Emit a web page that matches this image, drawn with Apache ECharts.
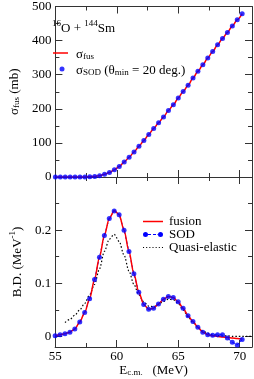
<!DOCTYPE html>
<html>
<head>
<meta charset="utf-8">
<script src="https://cdn.jsdelivr.net/npm/echarts@6/dist/echarts.min.js"></script>
<style>html,body{margin:0;padding:0;background:#fff}#c{width:254px;height:379px}</style>
</head>
<body>
<div id="c"></div>
<script>
const E = [55.0,55.4,55.8,56.2,56.6,57.0,57.4,57.8,58.2,58.6,59.0,59.4,59.8,60.2,60.6,61.0,61.4,61.8,62.2,62.6,63.0,63.4,63.8,64.2,64.6,65.0,65.4,65.8,66.2,66.6,67.0,67.4,67.8,68.2,68.6,69.0,69.4,69.8,70.2];
const sigmaFus = [0,0,0,0,0,0.1,0.3,0.8,1.8,4,8,13,21,31,44,58,73,90,107,125,142,159,176,195,212,232,251,269,290,310,329,349,368,388,406,424,443,461,479];
const sodBD = [0.001,0.003,0.005,0.008,0.014,0.027,0.045,0.071,0.107,0.149,0.190,0.222,0.236,0.229,0.200,0.160,0.118,0.083,0.060,0.051,0.053,0.061,0.070,0.075,0.073,0.065,0.053,0.039,0.028,0.017,0.008,0.003,0.002,0.003,0.003,-0.003,-0.011,-0.016,-0.006];
const fusionBD = [0.001,0.003,0.005,0.008,0.014,0.027,0.045,0.071,0.107,0.149,0.190,0.222,0.237,0.229,0.200,0.160,0.118,0.083,0.060,0.051,0.053,0.061,0.070,0.075,0.073,0.065,0.053,0.039,0.028,0.017,0.008,0.003,0.001,0.000,-0.001,-0.002,-0.003,-0.004,-0.005];
const qeE = [55.8,56.2,56.6,57.0,57.4,57.8,58.2,58.6,59.0,59.4,59.8,60.2,60.6,61.0,61.4,61.8,62.2,62.6,63.0,63.4,63.8,64.2,64.6,65.0,65.4,65.8,66.2,66.6,67.0,67.4,67.8,68.2,68.6,69.0,69.4,69.8,70.2,70.6,71.0];
const qeBD = [0.026,0.032,0.040,0.050,0.062,0.078,0.098,0.127,0.160,0.183,0.192,0.179,0.153,0.123,0.098,0.078,0.065,0.057,0.056,0.060,0.066,0.070,0.069,0.062,0.050,0.037,0.026,0.017,0.010,0.006,0.003,0.002,0.001,0.001,0,0,0,0,0];
const xMajor = [55,60,65,70];
const xMinor = [57.5,62.5,67.5];
const bdMajor = [0,0.1,0.2];
const bdMinor = [0.05,0.15,0.25];

const FONT = 'Liberation Serif';
const AX = '#333';
const rich = {
  n: {fontFamily: FONT, fontSize: 13, lineHeight: 16, verticalAlign: 'bottom', color: '#000'},
  sub: {fontFamily: FONT, fontSize: 9, lineHeight: 9, verticalAlign: 'bottom', color: '#000'},
  sup: {fontFamily: FONT, fontSize: 9, lineHeight: 9, verticalAlign: 'top', color: '#000'}
};
const pairs = (xs, ys) => xs.map((x, i) => [x, ys[i]]);
const NOLINE = {axisLine: {show: false, onZero: false}};

function xAx(grid, pos, ticks, len, opts) {
  return Object.assign({
    type: 'value', gridIndex: grid, position: pos, min: 55, max: 71,
    axisLine: {show: true, onZero: false, lineStyle: {color: AX, width: 1}},
    axisTick: {show: true, inside: true, length: len, customValues: ticks, lineStyle: {color: AX}},
    axisLabel: {show: false},
    splitLine: {show: false}
  }, opts || {});
}
function yBD(pos, ticks, len, opts) {
  return Object.assign({
    type: 'value', gridIndex: 1, position: pos, min: -0.02, max: 0.3,
    axisLine: {show: true, onZero: false, lineStyle: {color: AX, width: 1}},
    axisTick: {show: true, inside: true, length: len, customValues: ticks, lineStyle: {color: AX}},
    axisLabel: {show: false},
    splitLine: {show: false}
  }, opts || {});
}
function ySig(pos, labels) {
  return {
    type: 'value', gridIndex: 0, position: pos, min: 0, max: 500, interval: 100,
    axisLine: {show: true, onZero: false, lineStyle: {color: AX, width: 1}},
    axisTick: {show: true, inside: true, length: 7, lineStyle: {color: AX}},
    minorTick: {show: true, splitNumber: 2, length: 4, lineStyle: {color: AX}},
    axisLabel: {show: labels, margin: 4, fontFamily: FONT, fontSize: 13, color: '#000'},
    splitLine: {show: false},
    name: labels ? '{n|σ}{sub|fus}{n| (mb)}' : '',
    nameLocation: 'middle', nameGap: 14,
    nameTextStyle: {rich: rich}
  };
}

const option = {
  animation: false,
  textStyle: {fontFamily: FONT},
  grid: [
    {left: 41, right: 2, top: 4, height: 173},
    {left: 41, right: 2, top: 177, height: 170}
  ],
  title: {
    text: '{sup|16}{n|O + }{sup|144}{n|Sm}', left: 52, top: 19, padding: 0,
    textStyle: {fontWeight: 'normal', rich: rich}
  },
  legend: [
    {data: ['fus'], left: 53, top: 48, padding: 0, icon: 'rect', itemWidth: 15, itemHeight: 1.5,
     formatter: () => '{n|σ}{sub|fus}', textStyle: {padding: [0,0,0,3], rich: rich}},
    {data: ['sod'], left: 59.5, top: 64, padding: 0, icon: 'circle', itemWidth: 5, itemHeight: 5,
     formatter: () => '{n|σ}{sub|SOD}{n| (θ}{sub|min}{n| = 20 deg.)}', textStyle: {padding: [0,0,0,6.5], rich: rich}},
    {data: [
        {name: 'fusion', icon: 'path://M0,0L20,0L20,1.5L0,1.5Z'},
        {name: 'SOD', icon: 'path://M0,4a2.5,2.5 0 1,0 5,0a2.5,2.5 0 1,0 -5,0ZM15,4a2.5,2.5 0 1,0 5,0a2.5,2.5 0 1,0 -5,0ZM5,3.6L8,3.6L8,4.4L5,4.4ZM10,3.6L13,3.6L13,4.4L10,4.4ZM14.5,3.6L15,3.6L15,4.4L14.5,4.4Z'},
        {name: 'Quasi-elastic', icon: 'path://M0,0h1v1h-1ZM3,0h1v1h-1ZM6,0h1v1h-1ZM9,0h1v1h-1ZM12,0h1v1h-1ZM15,0h1v1h-1ZM18,0h1v1h-1Z'}
      ],
     orient: 'vertical', left: 143, top: 215, padding: 0,
     itemWidth: 20, itemHeight: 8, itemGap: 0,
     textStyle: {fontFamily: FONT, fontSize: 13, lineHeight: 13, color: '#000', padding: [0,0,0,1]}}
  ],
  xAxis: [
    xAx(0, 'bottom', xMajor, 7),
    xAx(0, 'top', xMajor, 7),
    xAx(1, 'bottom', xMajor, 7, {
      axisLabel: {show: true, customValues: xMajor, margin: 3, fontFamily: FONT, fontSize: 13, color: '#000'},
      name: '{n|E}{sub|c.m.}{n|   (MeV)}', nameLocation: 'middle', nameGap: 13,
      nameTextStyle: {rich: rich}
    }),
    xAx(1, 'top', xMajor, 7),
    xAx(0, 'bottom', xMinor, 4, NOLINE),
    xAx(0, 'top', xMinor, 4, NOLINE),
    xAx(1, 'bottom', xMinor, 4, NOLINE),
    xAx(1, 'top', xMinor, 4, NOLINE)
  ],
  yAxis: [
    ySig('left', true),
    ySig('right', false),
    yBD('left', bdMajor, 7, {
      axisLabel: {show: true, customValues: bdMajor, margin: 4, fontFamily: FONT, fontSize: 13, color: '#000'},
      name: '{n|B.D. (MeV}{sup|-1}{n|)}', nameLocation: 'middle', nameGap: 16,
      nameTextStyle: {rich: rich}
    }),
    yBD('right', bdMajor, 7),
    yBD('left', bdMinor, 4, NOLINE),
    yBD('right', bdMinor, 4, NOLINE)
  ],
  series: [
    {type: 'line', name: 'fus', xAxisIndex: 0, yAxisIndex: 0, data: pairs(E, sigmaFus),
     symbol: 'none', smooth: 0.3, smoothMonotone: 'x',
     lineStyle: {color: '#ff0000', width: 1.5}, itemStyle: {color: '#ff0000'}, z: 2},
    {type: 'scatter', name: 'sod', xAxisIndex: 0, yAxisIndex: 0, data: pairs(E, sigmaFus),
     symbolSize: 5, itemStyle: {color: '#0000ff'}, z: 3},
    {type: 'line', name: 'Quasi-elastic', xAxisIndex: 2, yAxisIndex: 2, data: pairs(qeE, qeBD),
     symbol: 'none', smooth: 0.3, smoothMonotone: 'x',
     lineStyle: {color: '#000', type: [1.5, 2], width: 1.2}, itemStyle: {color: '#000'}, z: 1},
    {type: 'line', name: 'SOD', xAxisIndex: 2, yAxisIndex: 2, data: pairs(E, sodBD),
     symbol: 'none',
     lineStyle: {color: '#0000ff', type: [3, 2], width: 1}, itemStyle: {color: '#0000ff'}, z: 2},
    {type: 'line', name: 'fusion', xAxisIndex: 2, yAxisIndex: 2, data: pairs(E, fusionBD),
     symbol: 'none', smooth: 0.3, smoothMonotone: 'x',
     lineStyle: {color: '#ff0000', width: 1.5}, itemStyle: {color: '#ff0000'}, z: 3},
    {type: 'scatter', name: 'sodDots', xAxisIndex: 2, yAxisIndex: 2, data: pairs(E, sodBD),
     symbolSize: 5, itemStyle: {color: '#0000ff'}, z: 4}
  ]
};
const chart = echarts.init(document.getElementById('c'), null, {renderer: 'canvas'});
chart.setOption(option);
</script>
</body>
</html>
